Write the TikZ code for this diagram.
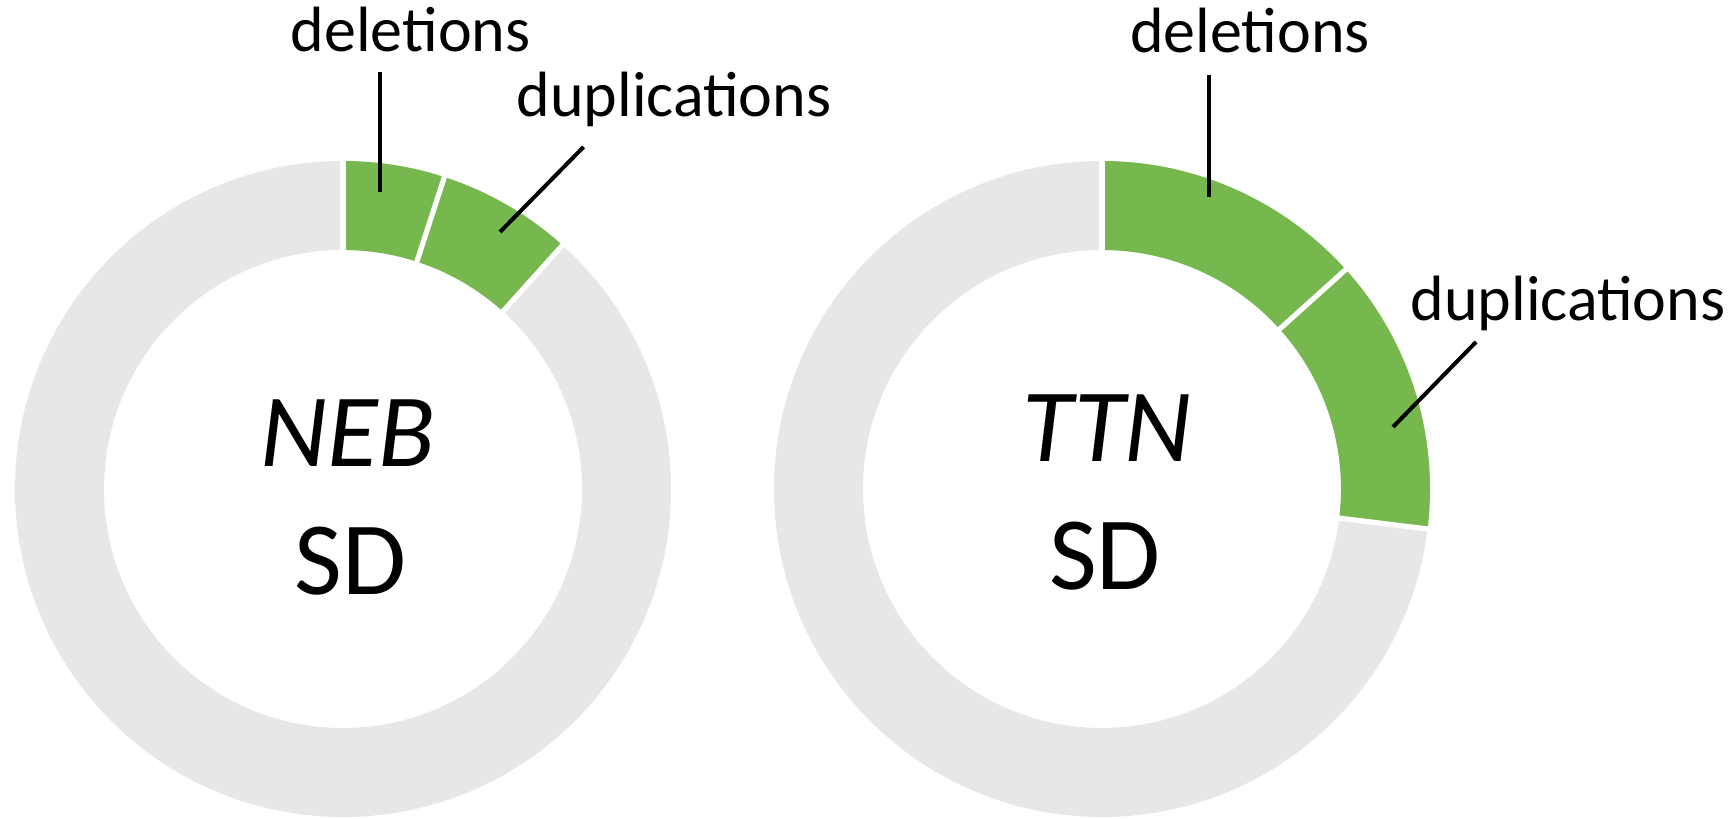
\documentclass[tikz,border=0pt]{standalone}
\usepackage{fontspec}
\setmainfont{Carlito}
\definecolor{segGreen}{RGB}{118,184,78}
\definecolor{ringGray}{RGB}{231,231,231}
\newcommand\annsector[4]{%
  \fill[#4] ([shift={(#1)}]#2:328) arc[start angle=#2,end angle=#3,radius=328]
    -- ([shift={(#1)}]#3:239) arc[start angle=#3,end angle=#2,radius=239] -- cycle;}
\newcommand\sepline[2]{%
  \draw[sepline] ([shift={(#1)}]#2:233) -- ([shift={(#1)}]#2:334);}
\begin{document}
\begin{tikzpicture}[x=0.5pt,y=0.5pt,
  lab/.style={font=\fontsize{32}{38}\selectfont, anchor=base, inner sep=0pt},
  ctr/.style={font=\fontsize{52}{62}\selectfont, anchor=base, inner sep=0pt},
  leader/.style={draw=black, line width=2pt},
  sepline/.style={draw=white, line width=2.6pt}]
\useasboundingbox (0,0) rectangle (1736,819);
\coordinate (L) at (343,330);
\coordinate (R) at (1102,330);
% rings
\fill[ringGray, even odd rule] (L) circle[radius=328] (L) circle[radius=239];
\fill[ringGray, even odd rule] (R) circle[radius=328] (R) circle[radius=239];
% green segments
\annsector{L}{90}{72}{segGreen}
\annsector{L}{72}{48}{segGreen}
\annsector{R}{90}{42}{segGreen}
\annsector{R}{42}{-7}{segGreen}
% separators
\sepline{L}{90}\sepline{L}{72}\sepline{L}{48}
\sepline{R}{90}\sepline{R}{42}\sepline{R}{-7}
% labels
\node[lab] (Ldel) at (410.7,767) {deletions};
\node[lab] (Ldup) at (674,702) {duplications};
\node[lab] (Rdel) at (1250,766) {deletions};
\node[lab] (Rdup) at (1568,498) {duplications};
% leaders
\coordinate (Ldel1) at (380,747);
\coordinate (Ldel2) at (380,627);
\coordinate (Ldup1) at (583.5,672);
\coordinate (Ldup2) at (500,587);
\coordinate (Rdel1) at (1209,744);
\coordinate (Rdel2) at (1209,622);
\coordinate (Rdup1) at (1476,477);
\coordinate (Rdup2) at (1393,392);
\draw[leader] (Ldel1) -- (Ldel2);
\draw[leader] (Ldup1) -- (Ldup2);
\draw[leader] (Rdel1) -- (Rdel2);
\draw[leader] (Rdup1) -- (Rdup2);
% centre texts
\node[ctr] (Lname) at (348,352.3) {\itshape NEB};
\node[ctr] (Lsd) at (350.5,224) {SD};
\node[ctr] (Rname) at (1107,357.3) {\itshape TTN};
\node[ctr] (Rsd) at (1105,229) {SD};
\end{tikzpicture}
\end{document}
